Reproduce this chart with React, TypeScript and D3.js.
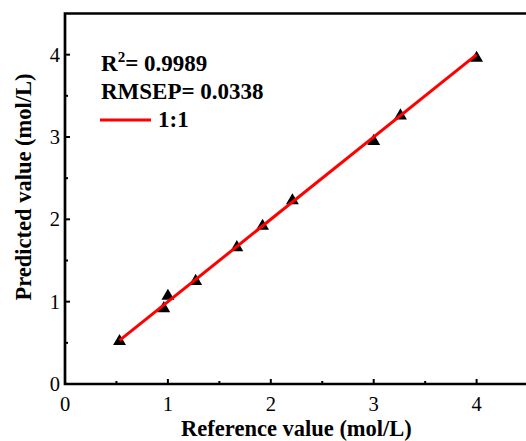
import React, { useEffect, useRef } from "react";
import * as d3 from "d3";

const refValues = [0.53, 0.96, 1.0, 1.27, 1.67, 1.92, 2.21, 3.0, 3.26, 4.0];
const predValues = [0.53, 0.93, 1.08, 1.26, 1.67, 1.93, 2.24, 2.96, 3.27, 3.97];
const lineRange = [0.53, 4.0];
const majorTicks = [0, 1, 2, 3, 4];
const minorTicks = [0.5, 1.5, 2.5, 3.5];
const statLines = ["RMSEP= 0.0338"];

export default function App() {
  const ref = useRef<SVGSVGElement>(null);
  useEffect(() => {
    const svg = d3.select(ref.current);
    svg.selectAll("*").remove();
    const left = 65, top = 13.5, bottom = 384;
    const x = d3.scaleLinear().domain([0, 4.5]).range([left, left + 4.5 * 102.9]);
    const y = d3.scaleLinear().domain([0, 4.5]).range([bottom, top]);
    const font = "Liberation Serif";

    const g = svg.append("g");

    // points
    const tri = d3.symbol().type(d3.symbolTriangle).size(72);
    g.selectAll("path.pt").data(refValues).enter().append("path")
      .attr("class", "pt")
      .attr("d", tri)
      .attr("transform", (d, i) => `translate(${x(d)},${y(predValues[i]) + 1})`)
      .attr("fill", "#000");

    // 1:1 line
    const line = d3.line<number>().x(d => x(d)).y(d => y(d));
    g.append("path").attr("d", line(lineRange)).attr("stroke", "#ff0000").attr("stroke-width", 3).attr("fill", "none");

    // frame
    g.append("path")
      .attr("d", `M${x(4.5) + 5},${y(4.5)} L${x(0)},${y(4.5)} L${x(0)},${y(0)} L${x(4.5) + 5},${y(0)}`)
      .attr("fill", "none").attr("stroke", "#000").attr("stroke-width", 2.7);

    // ticks inward
    majorTicks.forEach(t => {
      g.append("line").attr("x1", x(t)).attr("x2", x(t)).attr("y1", y(0)).attr("y2", y(0) - 5).attr("stroke", "#000").attr("stroke-width", 2);
      g.append("line").attr("y1", y(t)).attr("y2", y(t)).attr("x1", x(0)).attr("x2", x(0) + 5).attr("stroke", "#000").attr("stroke-width", 2);
      g.append("text").attr("x", x(t)).attr("y", 411).attr("text-anchor", "middle")
        .attr("font-family", font).attr("font-size", 20.5).attr("fill", "#000").text(String(t));
      g.append("text").attr("x", 60).attr("y", y(t) + 7).attr("text-anchor", "end")
        .attr("font-family", font).attr("font-size", 20.5).attr("fill", "#000").text(String(t));
    });
    minorTicks.forEach(t => {
      g.append("line").attr("x1", x(t)).attr("x2", x(t)).attr("y1", y(0)).attr("y2", y(0) - 3).attr("stroke", "#000").attr("stroke-width", 2);
      g.append("line").attr("y1", y(t)).attr("y2", y(t)).attr("x1", x(0)).attr("x2", x(0) + 3).attr("stroke", "#000").attr("stroke-width", 2);
    });

    // axis titles
    g.append("text").attr("x", (180 + 413) / 2).attr("y", 436).attr("text-anchor", "middle")
      .attr("font-family", font).attr("font-size", 22.5).attr("font-weight", "bold").text("Reference value (mol/L)");
    g.append("text").attr("transform", `translate(31,${(72 + 302) / 2}) rotate(-90)`).attr("text-anchor", "middle")
      .attr("font-family", font).attr("font-size", 22.5).attr("font-weight", "bold").text("Predicted value (mol/L)");

    // legend
    const t1 = g.append("text").attr("x", 101).attr("y", 70.5).attr("font-family", font)
      .attr("font-size", 23).attr("font-weight", "bold");
    t1.append("tspan").text("R");
    t1.append("tspan").attr("dy", -9).attr("font-size", 15).text("2");
    t1.append("tspan").attr("dy", 9).text("= 0.9989");
    statLines.forEach((s, i) => {
      g.append("text").attr("x", 101).attr("y", 98.5 + i * 28).attr("font-family", font)
        .attr("font-size", 23).attr("font-weight", "bold").text(s);
    });
    g.append("line").attr("x1", 100).attr("x2", 151).attr("y1", 120).attr("y2", 120).attr("stroke", "#ff0000").attr("stroke-width", 3);
    g.append("text").attr("x", 158).attr("y", 127).attr("font-family", font)
      .attr("font-size", 23).attr("font-weight", "bold").text("1:1");
  }, []);
  return (
    <svg ref={ref} width={526} height={441} style={{ position: "absolute", left: 0, top: 0, background: "#fff" }} />
  );
}
